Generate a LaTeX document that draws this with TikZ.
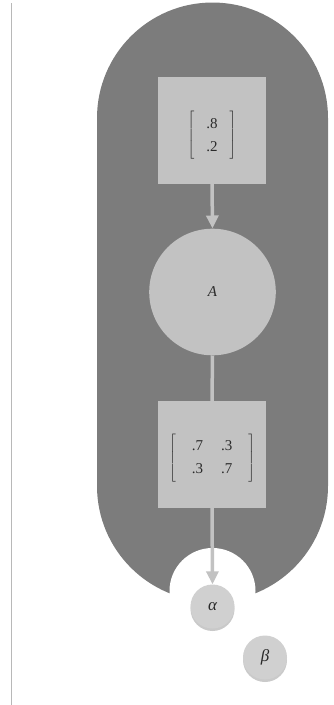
\documentclass[tikz,border=0pt]{standalone}
\usepackage{fontspec}
\setmainfont{Liberation Serif}
\usetikzlibrary{arrows.meta,shadows}
\definecolor{plate}{HTML}{7C7C7C}
\definecolor{nodegrey}{HTML}{C2C2C2}
\definecolor{varfill}{HTML}{D0D0D0}
\definecolor{rulegrey}{HTML}{B8B8B8}
\definecolor{ink}{HTML}{2A2A2A}
% bracketed table of probabilities: #1 outer padding, #2 column gap, #3 column spec
\newcommand{\probmat}[3]{%
  $\left[\vrule height 25pt depth 21pt width 0pt
  \renewcommand{\arraystretch}{1.35}\setlength{\tabcolsep}{#2}%
  \begin{tabular}{@{\hspace{#1}}#3@{\hspace{#1}}}}
\newcommand{\probmatend}{\end{tabular}\right]$}
% extra room above a box, so that it sits lower when centred
\newcommand{\lowered}[2]{\raisebox{0pt}[\dimexpr\height+#1\relax][\depth]{#2}}
\begin{document}
\begin{tikzpicture}[x=1pt,y=-1pt,
  factor/.style={rectangle, fill=nodegrey, minimum width=108pt, minimum height=107pt, inner sep=0pt,
    text=ink, font=\fontsize{15}{17}\selectfont},
  latent/.style={circle, fill=nodegrey, minimum size=126.6pt, inner sep=0pt,
    text=ink, font=\fontsize{15}{17}\selectfont\itshape},
  hyper/.style={circle, fill=varfill, minimum size=44pt, inner sep=0pt,
    text=ink, font=\fontsize{17}{19}\selectfont\itshape,
    drop shadow={shadow xshift=0pt, shadow yshift=-2.5pt, opacity=0.35, fill=black!60}},
  edge/.style={draw=nodegrey, line width=3.5pt},
  flow/.style={edge, -{Triangle[width=12pt,length=13pt]}}]
  \useasboundingbox (0,0) rectangle (333,705);

  % vertical rule on the left
  \draw[rulegrey, line width=1.3pt] (11.7,3) -- (11.7,705);

  % plate with rounded ends (y axis points down, so angles run clockwise)
  \fill[plate] (97,118) arc[start angle=180, end angle=360, radius=115.5]
    -- (328,486) arc[start angle=0, end angle=180, radius=115.5] -- cycle;
  % notch cut out of the plate around the hyperparameter
  \fill[white] (212.5,591) circle[radius=43];

  % nodes
  \node[factor] (prior) at (212,130.5)
    {\lowered{10pt}{\probmat{12pt}{0pt}{c}.8\\ .2\probmatend}};
  \node[latent] (A) at (212.5,292) {A};
  \node[factor] (trans) at (212,454.5)
    {\lowered{7pt}{\probmat{16pt}{9pt}{cc}.7 & .3\\ .3 & .7\probmatend}};
  \node[hyper] (alpha) at (212.5,606.5) {α};
  \node[hyper] (beta) at (265,657.5) {β};

  % connectors
  \draw[flow] (prior.south) -- (A.north);
  \draw[edge] (A.south) -- (trans.north);
  \draw[flow] (trans.south) -- (alpha.north);
\end{tikzpicture}
\end{document}
